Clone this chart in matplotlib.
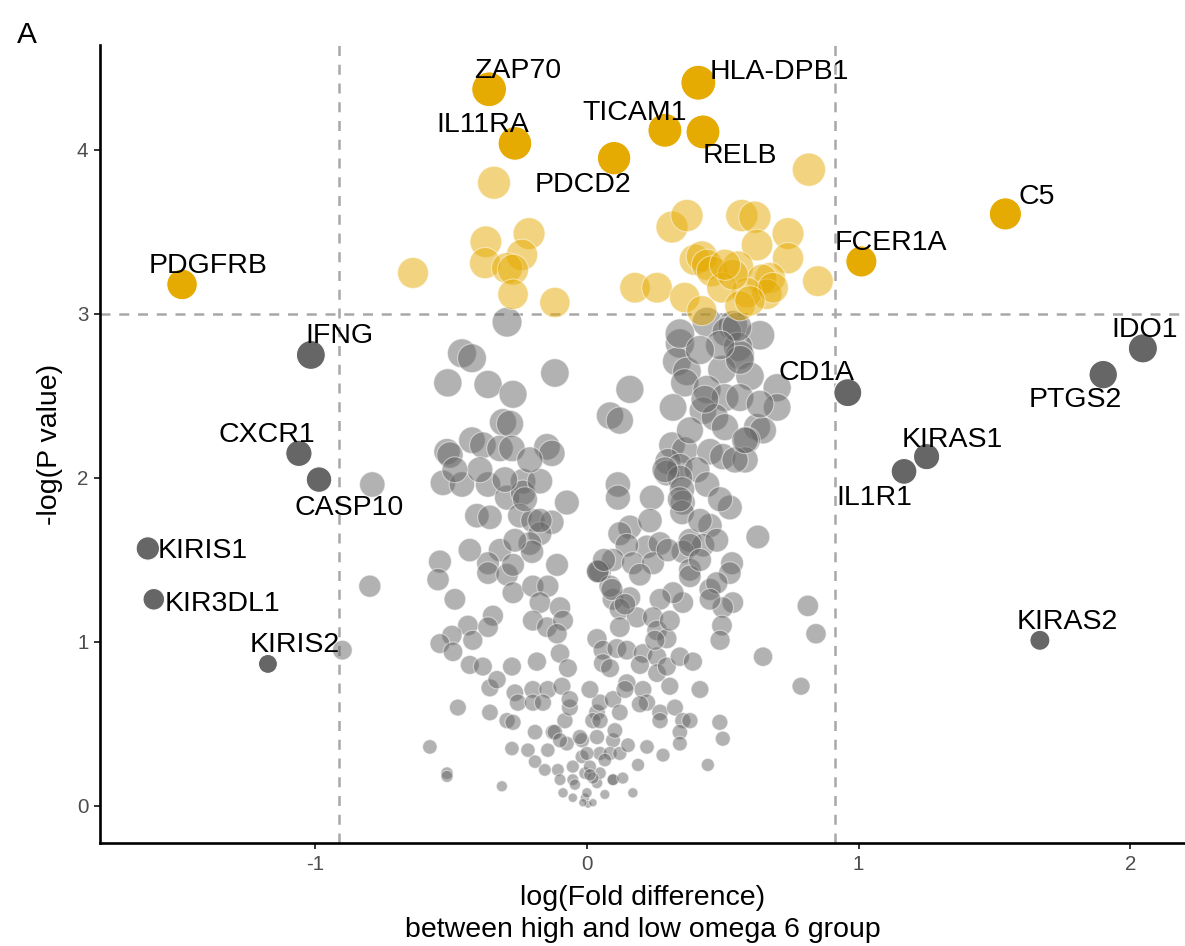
import numpy as np
import matplotlib
matplotlib.use("Agg")
import matplotlib.pyplot as plt

plt.rcParams['font.family'] = ['Liberation Sans', 'DejaVu Sans']
plt.rcParams['axes.unicode_minus'] = False

# labelled genes: name, log fold difference, -log p
genes = ['PDGFRB', 'ZAP70', 'IL11RA', 'PDCD2', 'TICAM1', 'HLA-DPB1', 'RELB', 'C5', 'FCER1A',
         'IFNG', 'CD1A', 'IDO1', 'PTGS2', 'KIRAS1', 'IL1R1', 'CXCR1', 'CASP10',
         'KIRIS1', 'KIR3DL1', 'KIRIS2', 'KIRAS2']
gene_fc = [-1.49, -0.36, -0.265, 0.10, 0.287, 0.41, 0.427, 1.54, 1.01,
           -1.016, 0.96, 2.046, 1.90, 1.25, 1.167, -1.06, -0.986,
           -1.616, -1.594, -1.174, 1.667]
gene_p = [3.18, 4.37, 4.04, 3.95, 4.12, 4.41, 4.11, 3.61, 3.32,
          2.75, 2.52, 2.79, 2.63, 2.13, 2.04, 2.15, 1.99,
          1.57, 1.26, 0.866, 1.01]

# unlabelled genes above the p cut-off
top_fc = [-0.342, -0.372, -0.213, -0.375, -0.239, -0.294, -0.272, -0.272, -0.640, -0.118,
          0.313, 0.368, 0.570, 0.618, 0.817, 0.74, 0.626, 0.397, 0.423, 0.442,
          0.46, 0.556, 0.74, 0.674, 0.644, 0.662, 0.589, 0.497, 0.85, 0.177,
          0.258, 0.36, 0.423, 0.563, 0.537, 0.685, 0.508, 0.60]
top_p = [3.80, 3.44, 3.49, 3.31, 3.36, 3.28, 3.27, 3.12, 3.25, 3.07,
         3.53, 3.60, 3.60, 3.59, 3.88, 3.49, 3.42, 3.33, 3.35, 3.30,
         3.26, 3.29, 3.34, 3.22, 3.21, 3.12, 3.13, 3.16, 3.20, 3.16,
         3.16, 3.10, 3.02, 3.05, 3.24, 3.16, 3.30, 3.08]

# unlabelled genes below the cut-off
rest_fc = [
    -0.294, -0.46, -0.423, -0.512, -0.364, -0.272, -0.118, -0.309, -0.283, -0.423,
    -0.383, -0.32, -0.276, -0.515, -0.504, -0.147, -0.129, -0.53, -0.46, -0.364,
    -0.294, -0.235, -0.235, -0.173, -0.074, -0.405, -0.357, -0.247, -0.199, -0.129,
    -0.173, -0.21, -0.32,
    0.442, 0.537, 0.515, 0.637, 0.556, 0.563, 0.342, 0.331, 0.368, 0.36,
    0.497, 0.60, 0.70, 0.70, 0.442, 0.508, 0.563, 0.158, 0.317, 0.427,
    0.471, 0.508, 0.626, 0.648, 0.085, 0.121, 0.589, 0.313, 0.36, 0.453,
    0.50, 0.582, 0.298, 0.342, 0.405, 0.294, 0.342, 0.442, 0.114, 0.114,
    0.239, 0.35, 0.353, 0.35, 0.526, 0.629, 0.453, 0.158, 0.121, 0.552, 0.342,
    -0.541, -0.548, -0.486, -0.364, -0.364, -0.294, -0.272, -0.202, -0.272, -0.199,
    -0.144, -0.110, -0.173, -0.099, -0.199, -0.147, -0.088, -0.11, 0.037, 0.048,
    -0.346, -0.438, -0.364, -0.497, -0.42, -0.541, -0.493, -0.431, -0.383, -0.276,
    -0.184, -0.099, -0.07, -0.357, -0.331, -0.265, -0.199, -0.144, -0.092, -0.254,
    -0.199, -0.162, -0.475, -0.357, -0.294, -0.272, -0.191, -0.125, -0.081, -0.063,
    -0.578, -0.515, -0.515, -0.313, -0.276, -0.217, -0.191, -0.144, -0.118, -0.074,
    -0.107, -0.052, -0.099, -0.052, -0.088, -0.052, -0.007, 0.004, -0.018, -0.007,
    0.037, -0.018, 0.048, 0.096,
    0.221, 0.269, 0.147, 0.096, 0.169, 0.243, 0.04, 0.379, 0.427, 0.478,
    0.353, 0.534, 0.526, 0.379, 0.379, 0.453, 0.478, 0.537, 0.50, 0.497,
    0.353, 0.317, 0.269, 0.096, 0.158, 0.085, 0.121, 0.184, 0.121, 0.243,
    0.258, 0.294, 0.059, 0.11, 0.147, 0.206, 0.258, 0.059, 0.085, 0.258,
    0.294, 0.342, 0.39, 0.147, 0.206, 0.221, 0.305, 0.269, 0.324, 0.353,
    0.342, 0.342, 0.28, 0.221, 0.188, 0.169, 0.648, 0.489, 0.50, 0.445,
    0.037, 0.048, 0.096, 0.121, 0.022, 0.096, 0.037, 0.085, 0.121, 0.096,
    0.132, 0.048, -0.026, 0.0, 0.011, 0.022, 0.0, 0.022, -0.015,
    0.813, 0.843, 0.788, -0.799, -0.79, -0.90,
    0.040, 0.063, 0.092, 0.140, 0.195, 0.298, 0.379, 0.416, 0.250, 0.305,
    0.195, 0.140, 0.048, 0.103, 0.151, 0.066, 0.011, -0.044, 0.066, 0.195,
    0.269, 0.011, -0.063, -0.099, -0.155, 0.453, 0.490, 0.416, 0.379, 0.232,
    0.416, 0.490, 0.545, 0.434, 0.379, 0.582, 0.637, 0.563, 0.490, 0.416,
    0.287, 0.342, -0.228, -0.302, -0.394, -0.486, -0.210, -0.431, -0.265, -0.173,
]
rest_p = [
    2.95, 2.76, 2.73, 2.58, 2.57, 2.51, 2.64, 2.34, 2.33, 2.23,
    2.20, 2.18, 2.18, 2.16, 2.14, 2.19, 2.15, 1.97, 1.96, 1.96,
    1.88, 1.98, 1.91, 1.98, 1.85, 1.77, 1.76, 1.77, 1.74, 1.73,
    1.66, 1.60, 1.56,
    2.95, 2.93, 2.89, 2.87, 2.80, 2.75, 2.82, 2.71, 2.65, 2.58,
    2.66, 2.62, 2.55, 2.43, 2.54, 2.49, 2.49, 2.54, 2.43, 2.41,
    2.37, 2.31, 2.31, 2.29, 2.38, 2.35, 2.23, 2.20, 2.17, 2.16,
    2.13, 2.11, 2.10, 2.07, 2.05, 2.03, 2.00, 1.96, 1.96, 1.88,
    1.88, 1.93, 1.85, 1.79, 1.82, 1.64, 1.71, 1.70, 1.66, 2.92, 2.88,
    1.49, 1.38, 1.26, 1.48, 1.42, 1.41, 1.47, 1.55, 1.30, 1.34,
    1.34, 1.47, 1.24, 1.21, 1.13, 1.09, 1.13, 1.05, 1.02, 1.43,
    1.16, 1.10, 1.09, 1.04, 1.01, 0.99, 0.94, 0.86, 0.85, 0.85,
    0.88, 0.93, 0.84, 0.72, 0.77, 0.69, 0.71, 0.71, 0.73, 0.63,
    0.63, 0.63, 0.60, 0.57, 0.52, 0.51, 0.45, 0.45, 0.52, 0.60,
    0.36, 0.20, 0.18, 0.12, 0.35, 0.34, 0.27, 0.34, 0.45, 0.38,
    0.22, 0.24, 0.16, 0.16, 0.08, 0.05, 0.05, 0.01, 0.30, 0.20,
    0.14, 0.40, 0.32, 0.16,
    1.58, 1.60, 1.59, 1.50, 1.48, 1.48, 1.43, 1.62, 1.59, 1.62,
    1.55, 1.48, 1.42, 1.44, 1.40, 1.32, 1.36, 1.24, 1.21, 1.10,
    1.24, 1.30, 1.26, 1.26, 1.27, 1.34, 1.20, 1.15, 1.09, 1.15,
    1.07, 1.02, 0.95, 0.96, 0.95, 0.93, 0.91, 0.87, 0.84, 0.81,
    0.85, 0.91, 0.88, 0.75, 0.71, 0.63, 0.73, 0.57, 0.60, 0.52,
    0.45, 0.38, 0.31, 0.36, 0.25, 0.08, 0.91, 0.51, 0.41, 0.25,
    0.57, 0.63, 0.65, 0.57, 0.52, 0.40, 0.42, 0.32, 0.32, 0.16,
    0.17, 0.20, 0.42, 0.32, 0.24, 0.17, 0.08, 0.02, 0.02,
    1.22, 1.05, 0.73, 1.34, 1.96, 0.95,
    1.43, 1.50, 1.32, 1.23, 1.41, 1.56, 1.59, 1.50, 1.01, 1.13,
    0.86, 0.71, 0.52, 0.46, 0.37, 0.28, 0.19, 0.13, 0.07, 0.62,
    0.52, 0.71, 0.65, 0.40, 0.22, 1.26, 1.01, 0.71, 0.52, 1.74,
    1.74, 1.87, 2.11, 2.48, 2.29, 2.23, 2.45, 2.72, 2.81, 2.78,
    2.05, 1.87, 1.87, 1.99, 2.05, 2.05, 2.11, 1.56, 1.62, 1.74,
]

p_cut = 3
fc_cut = 0.913

# label offsets from their point, in pixels (right, down)
label_off = [(26, -21), (29, -21), (-32, -21), (-31, 24), (-30, -20), (81, -14), (37, 21),
             (31, -20), (30, -21), (29, -22), (-31, -23), (2, -21), (-28, 22), (26, -20),
             (-30, 24), (-32, -21), (30, 25), (55, 0), (69, 2), (27, -22), (27, -21)]

yellow = '#E6AB02'
grey = '#666666'
pmax = max(gene_p)


def sizes(p):
    p = np.clip(np.asarray(p), 0, None)
    d = 6.3 + 28.7 * np.sqrt(p / pmax)  # diameter in px
    return (d * 0.72) ** 2


def colours(p):
    return [yellow if v > p_cut else grey for v in p]


fig = plt.figure(figsize=(11.85, 9.46), dpi=100)
ax = fig.add_axes([100 / 1185, 103 / 946, 1085 / 1185, 798 / 946])

ax.axhline(p_cut, color='#A8A8A8', lw=1.8, ls=(0, (4, 3.5)), zorder=1)
for v in (-fc_cut, fc_cut):
    ax.axvline(v, color='#A8A8A8', lw=1.8, ls=(0, (4, 3.5)), zorder=1)

ax.scatter(rest_fc, rest_p, s=sizes(rest_p), c=colours(rest_p), alpha=0.5,
           edgecolors='white', linewidths=0.8, zorder=2)
ax.scatter(top_fc, top_p, s=sizes(top_p), c=colours(top_p), alpha=0.5,
           edgecolors='white', linewidths=0.8, zorder=2)
ax.scatter(gene_fc, gene_p, s=sizes(gene_p), c=colours(gene_p),
           edgecolors='white', linewidths=0.8, zorder=3)

for name, x, y, (dx, dy) in zip(genes, gene_fc, gene_p, label_off):
    ax.annotate(name, (x, y), xytext=(dx * 0.72, -dy * 0.72), textcoords='offset points',
                ha='center', va='center_baseline', fontsize=20.5, color='black', zorder=4)

ax.set_xlim(-1.792, 2.201)
ax.set_ylim(-0.226, 4.64)
ax.set_xticks([-1, 0, 1, 2])
ax.set_yticks([0, 1, 2, 3, 4])

for s in ['top', 'right']:
    ax.spines[s].set_visible(False)
for s in ['left', 'bottom']:
    ax.spines[s].set_linewidth(1.9)
ax.tick_params(length=4.3, width=1.4, color='#333333', labelcolor='#4D4D4D',
               labelsize=14.8, pad=4)

ax.set_xlabel('log(Fold difference)\nbetween high and low omega 6 group', fontsize=20.5,
              linespacing=1.3, labelpad=8)
ax.set_ylabel('-log(P value)', fontsize=20.5, labelpad=10)

fig.text(27 / 1185, 1 - 35 / 946, 'A', fontsize=21.5, ha='center', va='center')

fig.savefig('out.png', dpi=100)
